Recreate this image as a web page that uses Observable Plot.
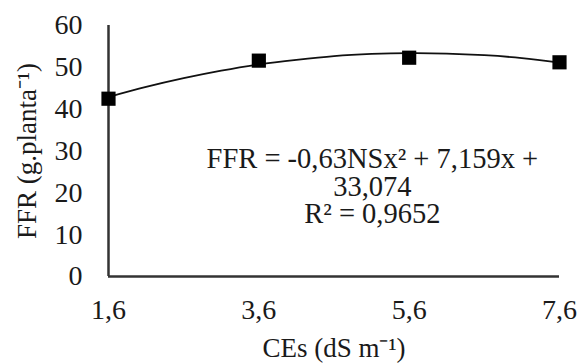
<!DOCTYPE html>
<html><head><meta charset="utf-8">
<script src="https://cdn.jsdelivr.net/npm/d3@7"></script>
<script src="https://cdn.jsdelivr.net/npm/@observablehq/plot@0.6"></script>
<style>
body{margin:0;background:#fff;}
svg{font-family:"Liberation Serif","Times New Roman",serif;}
g[aria-label="x-axis tick label"], g[aria-label="y-axis tick label"]{font-size:28px !important;}
g[aria-label="x-axis label"], g[aria-label="y-axis label"]{font-size:27px !important;}
</style></head>
<body><div id="chart"></div>
<script>
const ceValues = [1.6, 3.6, 5.6, 7.6];
const ffrValues = [42.5, 51.6, 52.3, 51.2];
const trendX = [1.6, 2.1, 2.6, 3.1, 3.6, 4.1, 4.6, 5.1, 5.6, 6.1, 6.6, 7.1, 7.6];
const trendY = [42.9, 45.3, 47.4, 49.2, 50.7, 51.8, 52.7, 53.2, 53.4, 53.3, 52.9, 52.2, 51.1];
const yTicks = [0, 10, 20, 30, 40, 50, 60];
const xTickLabels = ["1,6", "3,6", "5,6", "7,6"];
const eqLines = ["FFR = -0,63NSx² + 7,159x +", "33,074", "R² = 0,9652"];

const points = ceValues.map((x, i) => ({x, y: ffrValues[i]}));
const trend = trendX.map((x, i) => ({x, y: trendY[i]}));

const chart = Plot.plot({
  width: 581, height: 363,
  marginLeft: 108, marginRight: 22, marginTop: 25, marginBottom: 87,
  style: {color: "#1a1a1a", background: "#fff", fontFamily: "'Liberation Serif', serif"},
  x: {domain: [1.6, 7.6]},
  y: {domain: [0, 60]},
  marks: [
    Plot.axisX({ticks: ceValues, tickFormat: d => xTickLabels[ceValues.indexOf(d)], tickSize: 0, tickPadding: 23, fontSize: 28,
      label: "CEs (dS m⁻¹)", labelAnchor: "center", labelOffset: 80, labelArrow: "none"}),
    Plot.axisY({ticks: yTicks, tickSize: 0, tickPadding: 26, fontSize: 28,
      label: "FFR (g.planta⁻¹)", labelAnchor: "center", labelOffset: 92, labelArrow: "none"}),
    Plot.ruleX([1.6], {y1: 0, y2: 60, stroke: "#333", strokeWidth: 2.5}),
    Plot.ruleY([0], {x1: 1.6, x2: 7.6, stroke: "#333", strokeWidth: 2.5}),
    Plot.line(trend, {x: "x", y: "y", curve: "natural", stroke: "#111", strokeWidth: 1.8}),
    Plot.dot(points, {x: "x", y: "y", symbol: "square", r: 8, fill: "#000", stroke: "none"}),
    Plot.text(eqLines, {x: 5.11, y: (d, i) => [25.9, 19.3, 12.7][i], text: d => d, fontSize: 28.5, fill: "#1a1a1a", textAnchor: "middle", lineAnchor: "bottom"})
  ]
});
document.getElementById("chart").appendChild(chart);
</script></body></html>
